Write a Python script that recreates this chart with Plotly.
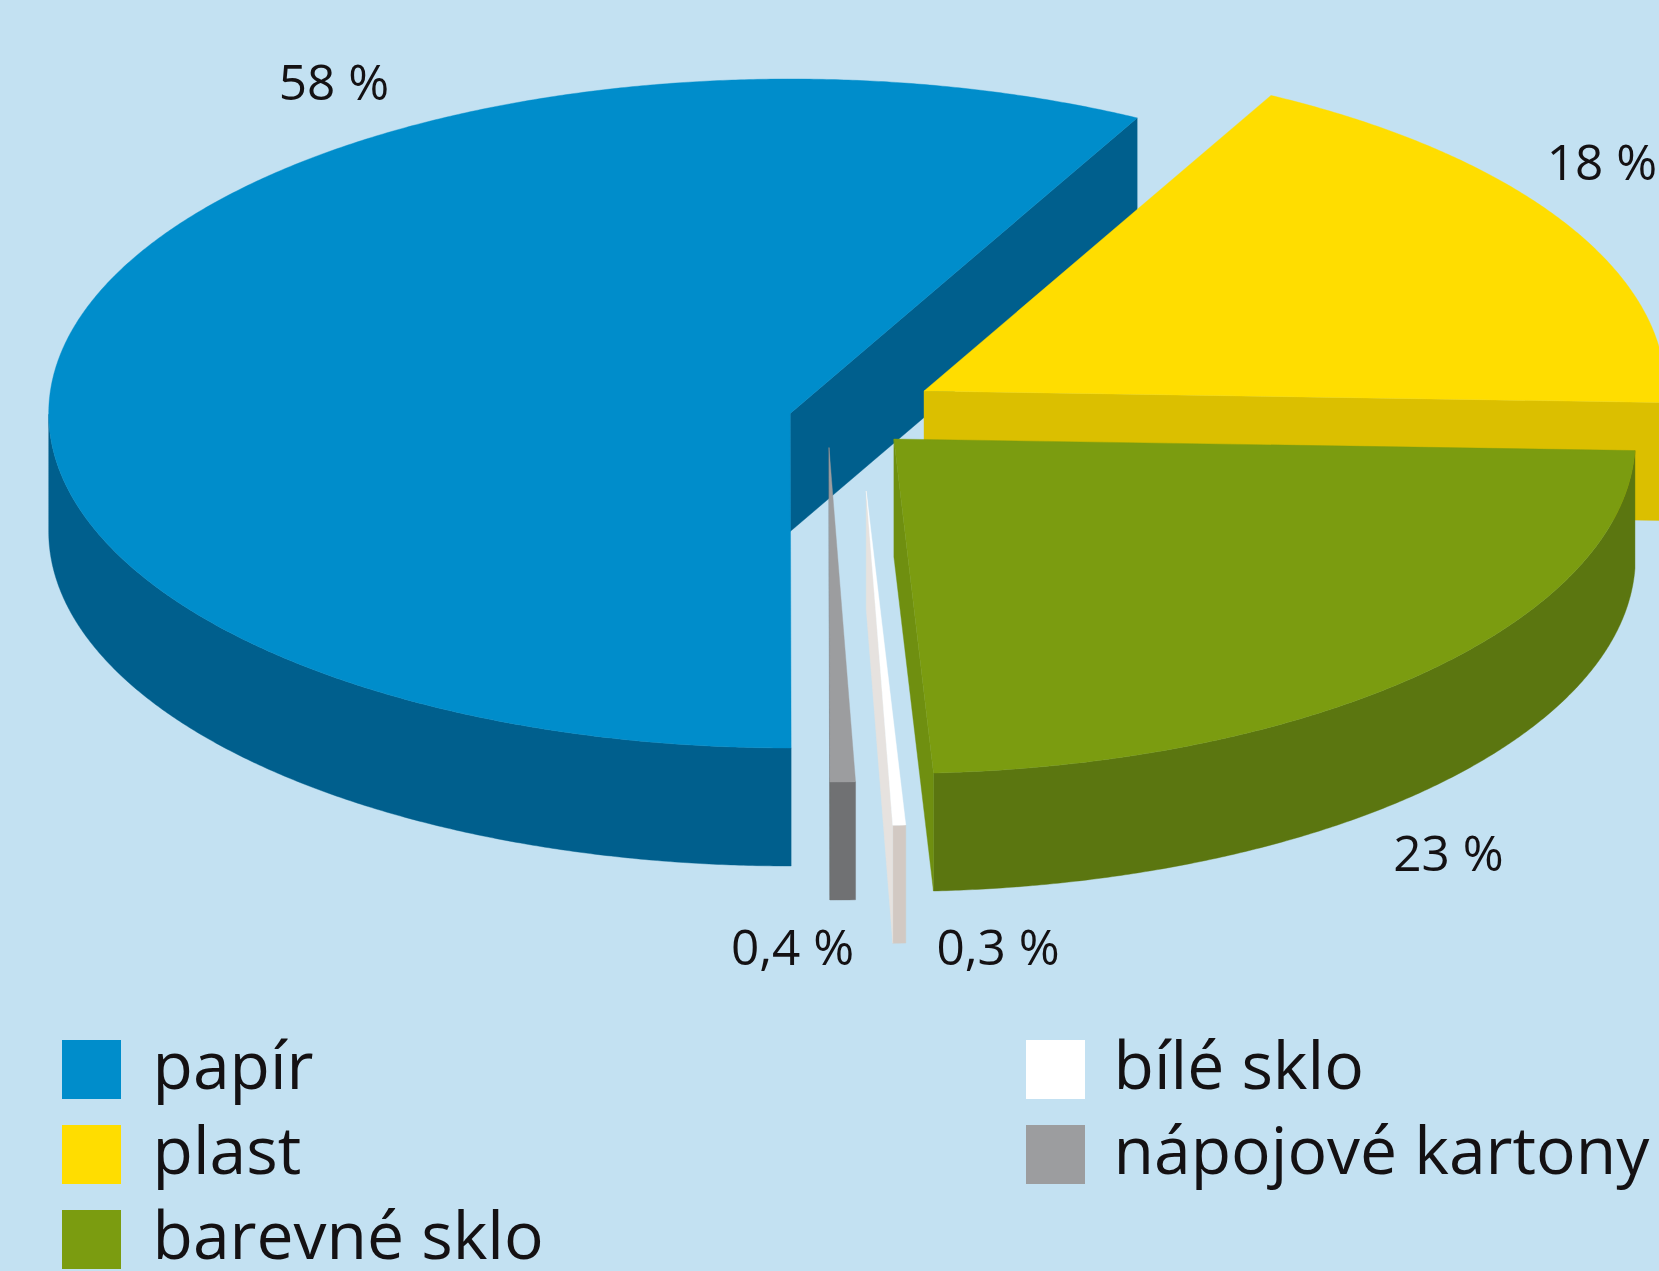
import numpy as np
import plotly.graph_objects as go

# --- data ---
categories = ["plast", "barevné sklo", "bílé sklo", "nápojové kartony", "papír"]
shares = [17.8, 23.6, 0.28, 0.55, 57.77]
value_labels = ["18 %", "23 %", "0,3 %", "0,4 %", "58 %"]
legend_order = ["papír", "plast", "barevné sklo", "bílé sklo", "nápojové kartony"]

# --- styles / layout ---
W, H = 1659, 1271
BG = "#c3e1f2"
TEXT = "#141113"
FONT = "Open Sans"
top_col = {"papír": "#008dcb", "plast": "#ffdd00", "barevné sklo": "#7b9c10",
           "bílé sklo": "#ffffff", "nápojové kartony": "#9c9d9f"}
wall_col = {"papír": "#005f8d", "plast": "#dbbf00", "barevné sklo": "#5b7610",
            "bílé sklo": "#d2c9c3", "nápojové kartony": "#707173"}
cut_col = {"papír": "#005f8d", "plast": "#dbbf00", "barevné sklo": "#6f8f10",
           "bílé sklo": "#e6e2df", "nápojové kartony": "#707173"}
apex = {"papír": (790.2, 413.5), "plast": (924.0, 391.0), "barevné sklo": (893.9, 439.0),
        "bílé sklo": (866.2, 491.0), "nápojové kartony": (829.0, 447.5)}
RX, RY, DEPTH = 741.5, 334.5, 118.0
START_ANGLE = 62.1
draw_order = ["papír", "plast", "nápojové kartony", "bílé sklo", "barevné sklo"]

label_pos = {"papír": (334, 88), "plast": (1602, 168), "barevné sklo": (1448.5, 859),
             "nápojové kartony": (792.5, 953), "bílé sklo": (998, 953)}
legend_pos = {"papír": (91.5, 1069.5), "plast": (91.5, 1154.5), "barevné sklo": (91.5, 1239.5),
              "bílé sklo": (1055.5, 1069.5), "nápojové kartony": (1055.5, 1154.5)}
LEGEND_TEXT_DX = {"left": 61, "right": 58}

# --- slice angles from the shares (clockwise from START_ANGLE) ---
total = sum(shares)
sweeps = [s / total * 360 for s in shares]
ends = START_ANGLE - np.cumsum(sweeps)
starts = np.concatenate([[START_ANGLE], ends[:-1]])
span = {c: (a, b) for c, a, b in zip(categories, starts, ends)}


def pt(c, a):
    cx, cy = apex[c]
    r = np.radians(a)
    return cx + RX * np.cos(r), cy - RY * np.sin(r)


def poly(xs, ys, color):
    return go.Scatter(x=list(xs) + [xs[0]], y=list(ys) + [ys[0]], mode="lines", fill="toself",
                      fillcolor=color, line=dict(width=0.4, color=color, simplify=False),
                      hoverinfo="skip")


fig = go.Figure()
for c in draw_order:
    a0, a1 = span[c]
    n = max(int(abs(a1 - a0) * 3), 3)
    ang = np.linspace(a0, a1, n)
    x, y = pt(c, ang)
    cx, cy = apex[c]
    # outer wall: the part of the rim that faces the viewer
    vis = np.sin(np.radians(ang)) <= 1e-9
    if vis.sum() >= 2:
        xv, yv = x[vis], y[vis]
        fig.add_trace(poly(np.r_[xv, xv[::-1]], np.r_[yv, yv[::-1] + DEPTH], wall_col[c]))
    # cut face at the end of the slice
    ex, ey = pt(c, a1)
    fig.add_trace(poly([cx, ex, ex, cx], [cy, ey, ey + DEPTH, cy + DEPTH], cut_col[c]))
    # top face
    fig.add_trace(poly(np.r_[cx, x], np.r_[cy, y], top_col[c]))

# value labels
for c, lab in zip(categories, value_labels):
    lx, ly = label_pos[c]
    fig.add_trace(go.Scatter(x=[lx], y=[ly], mode="text", text=[lab], textposition="middle center",
                             textfont=dict(family=FONT, size=49.5, color=TEXT), hoverinfo="skip",
                             cliponaxis=False))

# legend
for c in legend_order:
    lx, ly = legend_pos[c]
    fig.add_trace(go.Scatter(x=[lx], y=[ly], mode="markers",
                             marker=dict(symbol="square", size=59, color=top_col[c], line=dict(width=0)),
                             hoverinfo="skip"))
    dx = LEGEND_TEXT_DX["left"] if lx < 500 else LEGEND_TEXT_DX["right"]
    fig.add_trace(go.Scatter(x=[lx + dx], y=[ly + 3], mode="text", text=[c], textposition="middle right",
                             textfont=dict(family=FONT, size=66, color=TEXT), hoverinfo="skip",
                             cliponaxis=False))

fig.update_layout(width=W, height=H, margin=dict(l=0, r=0, t=0, b=0), showlegend=False,
                  paper_bgcolor=BG, plot_bgcolor=BG,
                  xaxis=dict(range=[0, W], visible=False, fixedrange=True),
                  yaxis=dict(range=[H, 0], visible=False, fixedrange=True))
fig.write_html("out.html", config={"displayModeBar": False},
               post_script="document.body.style.margin='0';document.body.style.background='%s';" % BG)
